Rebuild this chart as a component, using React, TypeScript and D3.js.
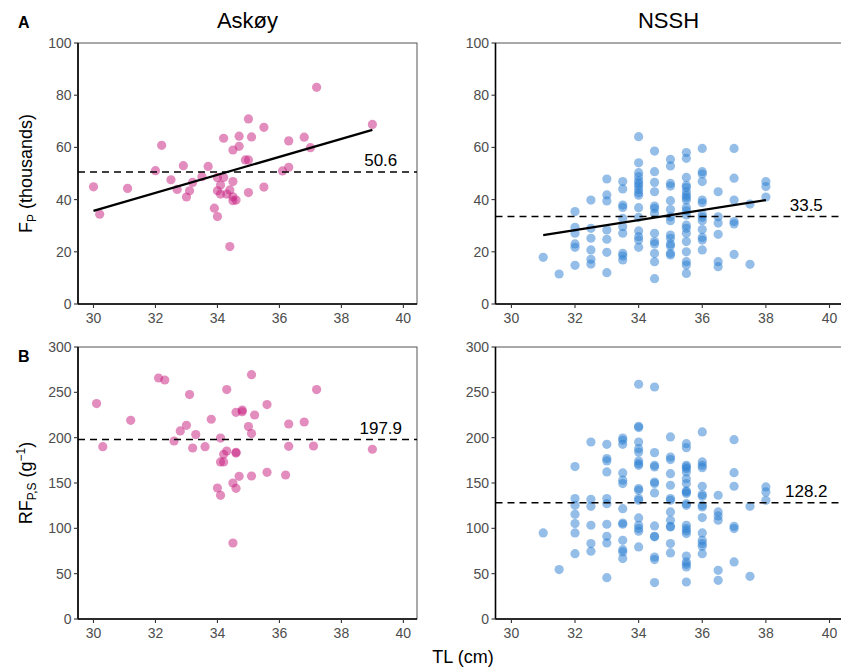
import React from "react";
import * as d3 from "d3";

// ---------- data ----------
const xTicks = [30, 32, 34, 36, 38, 40];
const fpTicks = [0, 20, 40, 60, 80, 100];
const rfTicks = [0, 50, 100, 150, 200, 250, 300];
const siteNames = ["Askøy", "NSSH"];
const panelTags = ["A", "B"];

// Askøy, F_P (thousands)
const askoyTL_FP = [30.0, 30.2, 31.1, 32.2, 32.0, 32.5, 32.7, 32.9, 33.0, 33.1, 33.2, 33.5, 33.7, 33.9, 34.0, 34.0, 34.0, 34.1, 34.1, 34.2, 34.2, 34.3, 34.4, 34.4, 34.5, 34.5, 34.5, 34.5, 34.6, 34.7, 34.7, 34.9, 35.0, 35.0, 35.0, 35.1, 35.5, 35.5, 36.1, 36.3, 36.3, 36.8, 37.0, 37.2, 39.0];
const askoyFP = [44.9, 34.4, 44.3, 60.8, 51.1, 47.6, 43.9, 53.0, 41.0, 43.4, 46.6, 48.8, 52.7, 36.7, 33.5, 48.4, 43.4, 45.6, 42.1, 63.5, 48.5, 42.1, 43.7, 22.0, 59.0, 46.9, 41.1, 39.6, 39.8, 60.4, 64.3, 55.2, 55.2, 70.9, 42.7, 64.0, 67.7, 44.8, 51.0, 62.5, 52.4, 63.9, 59.9, 83.0, 68.8];

// Askøy, RF_P,S (g^-1)
const askoyTL_RF = [30.1, 30.3, 31.2, 32.1, 32.3, 32.6, 32.8, 33.0, 33.1, 33.2, 33.3, 33.6, 33.8, 34.0, 34.1, 34.1, 34.1, 34.2, 34.2, 34.3, 34.3, 34.5, 34.5, 34.6, 34.6, 34.6, 34.6, 34.7, 34.8, 34.8, 35.0, 35.1, 35.1, 35.1, 35.2, 35.6, 35.6, 36.2, 36.3, 36.3, 36.8, 37.1, 37.2, 39.0];
const askoyRF = [237.6, 190.1, 219.1, 265.8, 263.6, 196.3, 207.4, 213.6, 247.5, 188.6, 203.4, 190.1, 220.3, 144.5, 136.4, 199.6, 173.2, 173.2, 181.6, 253.0, 185.3, 83.8, 150.0, 183.9, 144.1, 228.0, 183.0, 157.4, 230.5, 228.6, 212.2, 269.5, 157.7, 204.5, 225.0, 236.5, 161.8, 158.8, 215.1, 190.5, 217.3, 190.8, 253.0, 187.2];

// NSSH: lengths recorded to 0.5 cm
const nsshTL = [31, 31.5, 32, 32.5, 33, 33.5, 34, 34.5, 35, 35.5, 36, 36.5, 37, 37.5, 38];
const nsshFP = [
  [17.9],
  [11.5],
  [35.4, 29.4, 27.1, 23.0, 21.7, 14.8],
  [39.8, 29.0, 25.2, 20.7, 17.1, 15.3],
  [47.9, 41.8, 39.5, 28.4, 24.8, 19.8, 12.0],
  [46.9, 44.1, 37.9, 37.0, 32.8, 29.6, 27.1, 19.4, 18.4, 16.9],
  [64.1, 54.1, 50.3, 48.8, 47.2, 46.2, 45.2, 43.9, 42.6, 41.7, 36.9, 33.2, 28.0, 25.8, 24.5, 21.7],
  [58.6, 50.7, 46.6, 43.0, 37.5, 36.6, 34.7, 27.1, 23.9, 23.0, 19.4, 16.2, 9.7],
  [55.4, 52.9, 46.2, 45.2, 39.6, 36.2, 33.4, 31.9, 26.4, 25.2, 23.0, 22.2, 19.4, 18.8],
  [58.0, 55.8, 48.5, 45.5, 44.6, 43.0, 41.7, 40.8, 39.8, 37.0, 35.7, 34.1, 30.2, 29.0, 27.1, 23.9, 20.0, 16.2, 14.9, 11.7],
  [59.6, 50.7, 49.8, 46.9, 39.8, 38.8, 34.3, 33.2, 31.9, 28.5, 25.5, 24.5, 20.7],
  [43.0, 33.4, 31.0, 26.7, 16.2, 14.3],
  [59.6, 48.2, 39.8, 31.6, 30.7, 19.0],
  [38.3, 15.2],
  [46.9, 45.0, 41.0],
];
const nsshRF = [
  [94.9],
  [54.5],
  [168.1, 132.8, 125.4, 115.5, 105.2, 94.9, 72.1],
  [195.2, 132.0, 124.3, 103.4, 83.2, 74.7],
  [192.7, 176.9, 174.3, 162.2, 132.8, 127.2, 104.5, 91.2, 83.9, 45.6],
  [199.6, 197.1, 192.7, 161.1, 153.1, 149.4, 121.7, 105.9, 104.5, 86.8, 76.5, 74.0, 66.6],
  [258.9, 212.5, 211.1, 195.2, 187.9, 184.2, 174.3, 171.3, 169.5, 143.8, 141.9, 132.8, 131.0, 111.5, 103.4, 99.7, 96.8, 79.5],
  [255.9, 183.5, 169.5, 167.7, 151.1, 149.4, 139.1, 102.7, 91.2, 90.6, 68.4, 65.5, 40.2],
  [200.8, 178.7, 175.8, 160.3, 147.5, 132.8, 131.0, 118.1, 108.9, 102.2, 101.6, 83.2, 72.9],
  [193.4, 189.0, 169.5, 167.7, 165.8, 162.2, 154.8, 149.4, 141.3, 140.2, 138.4, 127.2, 125.4, 103.4, 99.7, 97.1, 94.2, 69.5, 62.9, 60.3, 57.4, 40.8],
  [206.3, 173.2, 169.5, 166.9, 146.4, 137.2, 135.4, 125.4, 123.6, 111.9, 94.9, 86.8, 83.2, 80.2, 72.1],
  [136.5, 118.1, 113.7, 108.9, 53.7, 42.7],
  [197.8, 161.4, 146.4, 102.2, 99.7, 62.9],
  [124.3, 47.1],
  [145.7, 140.2, 131.0],
];

// means and fitted lines
const meansFP = [50.6, 33.5];
const meansRF = [197.9, 128.2];
const fitAskoyTL = [30.0, 39.0];
const fitAskoyFP = [35.7, 66.7];
const fitNsshTL = [31.0, 38.0];
const fitNsshFP = [26.4, 39.8];
const meanLabelTL = 39.27;

const siteColors = ["#c51b7d", "#2a7dd1"];

// ---------- helpers ----------
type Pt = { x: number; y: number };
const zipPts = (xs: number[], ys: number[]): Pt[] => xs.map((x, i) => ({ x, y: ys[i] }));
const gridPts = (xs: number[], cols: number[][]): Pt[] =>
  cols.flatMap((c, i) => c.map((y) => ({ x: xs[i], y })));

const FONT = "'Liberation Sans', Arial, Helvetica, sans-serif";

type PanelProps = {
  x0: number; x1: number; y0: number; y1: number;
  yMax: number; yTicks: number[];
  pts: Pt[]; color: string; mean: number;
  fit?: { x: number[]; y: number[] };
};

function Panel({ x0, x1, y0, y1, yMax, yTicks, pts, color, mean, fit }: PanelProps) {
  const xs = d3.scaleLinear().domain([29.5, 40.44]).range([x0, x1]);
  const ys = d3.scaleLinear().domain([0, yMax]).range([y1, y0]);
  const line = d3.line<[number, number]>().x((d) => xs(d[0])).y((d) => ys(d[1]));
  const fitPath = fit ? line(fit.x.map((x, i) => [x, fit.y[i]] as [number, number])) : null;
  const clipId = `clip-${Math.round(x0)}-${Math.round(y0)}`;
  return (
    <g>
      <defs>
        <clipPath id={clipId}>
          <rect x={x0} y={y0} width={x1 - x0} height={y1 - y0} />
        </clipPath>
      </defs>
      <rect x={x0} y={y0} width={x1 - x0} height={y1 - y0} fill="white" stroke="#555" strokeWidth={1} />
      <g clipPath={`url(#${clipId})`}>
        {pts.map((p, i) => (
          <circle key={i} cx={xs(p.x)} cy={ys(p.y)} r={4.6} fill={color} fillOpacity={0.5} />
        ))}
        <line x1={x0} x2={x1} y1={ys(mean)} y2={ys(mean)} stroke="#000" strokeWidth={1.6} strokeDasharray="7,5" />
        {fitPath && <path d={fitPath} fill="none" stroke="#000" strokeWidth={2.2} />}
      </g>
      <text x={xs(meanLabelTL)} y={ys(mean) - 6} textAnchor="middle" fontSize={17} fontFamily={FONT} fill="#000">
        {mean.toFixed(1)}
      </text>
      {/* axes */}
      <line x1={x0} x2={x0} y1={y0} y2={y1} stroke="#000" strokeWidth={1.6} />
      <line x1={x0} x2={x1} y1={y1} y2={y1} stroke="#000" strokeWidth={1.6} />
      {yTicks.map((t) => (
        <g key={`y${t}`}>
          <line x1={x0 - 4} x2={x0} y1={ys(t)} y2={ys(t)} stroke="#333" strokeWidth={1.1} />
          <text x={x0 - 6.5} y={ys(t)} dy="0.35em" textAnchor="end" fontSize={14} fontFamily={FONT} fill="#4d4d4d">
            {t}
          </text>
        </g>
      ))}
      {xTicks.map((t) => (
        <g key={`x${t}`}>
          <line x1={xs(t)} x2={xs(t)} y1={y1} y2={y1 + 4} stroke="#333" strokeWidth={1.1} />
          <text x={xs(t)} y={y1 + 19} textAnchor="middle" fontSize={14} fontFamily={FONT} fill="#4d4d4d">
            {t}
          </text>
        </g>
      ))}
    </g>
  );
}

export default function App() {
  const W = 841, H = 669;
  const L = { x0: 78, x1: 417 };
  const R = { x0: 495.5, x1: 843.5 };
  const top = { y0: 43, y1: 304 };
  const bot = { y0: 347, y1: 619 };
  return (
    <svg width={W} height={H} style={{ position: "absolute", left: 0, top: 0, background: "#fff" }} fontFamily={FONT}>
      <rect x={0} y={0} width={W} height={H} fill="#fff" />
      <Panel {...L} {...top} yMax={100} yTicks={fpTicks} pts={zipPts(askoyTL_FP, askoyFP)} color={siteColors[0]}
        mean={meansFP[0]} fit={{ x: fitAskoyTL, y: fitAskoyFP }} />
      <Panel {...R} {...top} yMax={100} yTicks={fpTicks} pts={gridPts(nsshTL, nsshFP)} color={siteColors[1]}
        mean={meansFP[1]} fit={{ x: fitNsshTL, y: fitNsshFP }} />
      <Panel {...L} {...bot} yMax={300} yTicks={rfTicks} pts={zipPts(askoyTL_RF, askoyRF)} color={siteColors[0]}
        mean={meansRF[0]} />
      <Panel {...R} {...bot} yMax={300} yTicks={rfTicks} pts={gridPts(nsshTL, nsshRF)} color={siteColors[1]}
        mean={meansRF[1]} />

      {/* titles */}
      <text x={(L.x0 + L.x1) / 2} y={28} textAnchor="middle" fontSize={22} fill="#000">{siteNames[0]}</text>
      <text x={(R.x0 + R.x1) / 2 - 1} y={28} textAnchor="middle" fontSize={22} fill="#000">{siteNames[1]}</text>
      <text x={18} y={28} fontSize={16} fontWeight="bold" fill="#000">{panelTags[0]}</text>
      <text x={18} y={362} fontSize={16} fontWeight="bold" fill="#000">{panelTags[1]}</text>

      {/* y axis titles */}
      <text transform={`translate(32,${(top.y0 + top.y1) / 2}) rotate(-90)`} textAnchor="middle" fontSize={18} fill="#000">
        F<tspan fontSize={12} dy={4}>P</tspan><tspan dy={-4}> (thousands)</tspan>
      </text>
      <text transform={`translate(32,${(bot.y0 + bot.y1) / 2}) rotate(-90)`} textAnchor="middle" fontSize={18} fill="#000">
        RF<tspan fontSize={12} dy={4}>P,S</tspan><tspan dy={-4}> (g</tspan><tspan fontSize={12} dy={-7}>−1</tspan><tspan dy={7}>)</tspan>
      </text>

      {/* x axis title */}
      <text x={463} y={663} textAnchor="middle" fontSize={18} fill="#000">TL (cm)</text>
    </svg>
  );
}
